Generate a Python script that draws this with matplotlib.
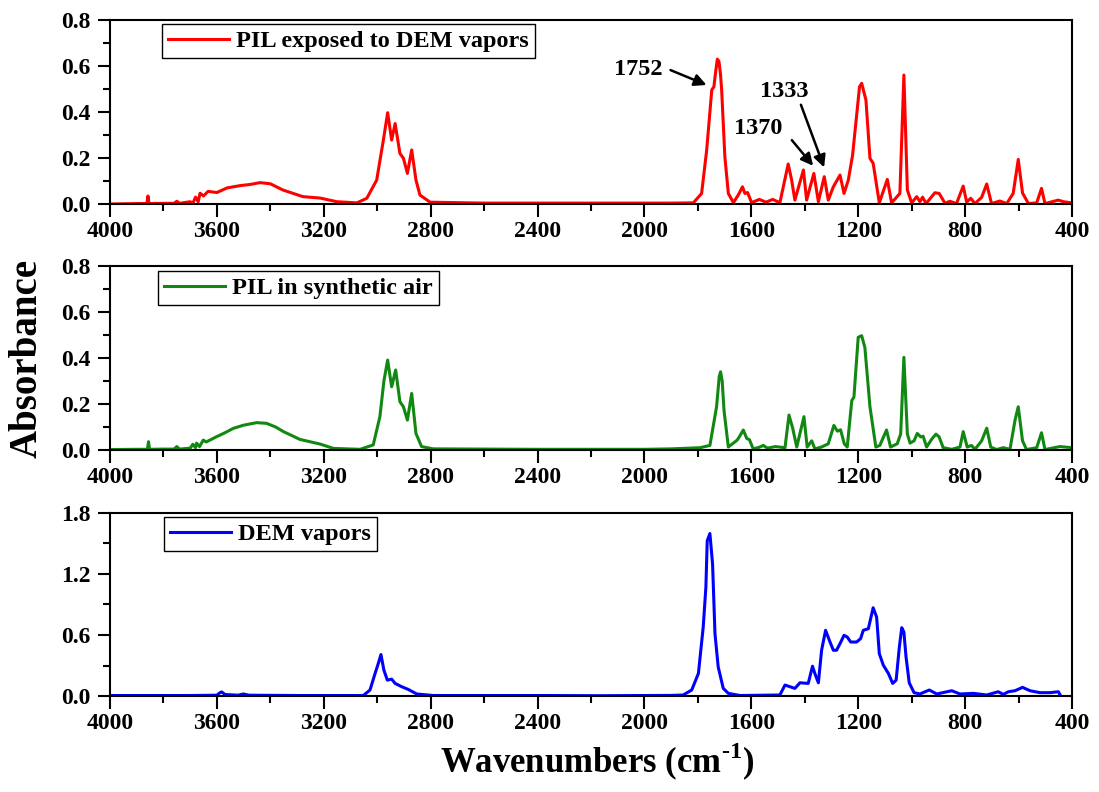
import numpy as np
import matplotlib
matplotlib.use('Agg')
import matplotlib.pyplot as plt
from matplotlib.ticker import MultipleLocator, FormatStrFormatter

plt.rcParams['font.family'] = ['Liberation Serif', 'DejaVu Serif']
plt.rcParams['font.weight'] = 'bold'
plt.rcParams['mathtext.fontset'] = 'custom'
plt.rcParams['mathtext.rm'] = 'Liberation Serif:bold'
plt.rcParams['mathtext.bf'] = 'Liberation Serif:bold'

# (wavenumber cm-1, absorbance)
pil_dem_pts = [
    (4000, 0.0), (3900, 0.002), (3862, 0.002), (3858, 0.035), (3854, 0.002),
    (3800, 0.003), (3760, 0.003), (3750, 0.012), (3740, 0.003), (3700, 0.01),
    (3690, 0.003), (3680, 0.03), (3670, 0.01), (3663, 0.047), (3650, 0.035),
    (3633, 0.055), (3600, 0.05), (3562, 0.07), (3513, 0.08), (3476, 0.085),
    (3439, 0.093), (3400, 0.088), (3353, 0.061), (3278, 0.032), (3214, 0.026),
    (3151, 0.01), (3076, 0.005), (3039, 0.025), (3002, 0.104), (2977, 0.278),
    (2961, 0.397), (2946, 0.278), (2933, 0.35), (2915, 0.22), (2902, 0.199),
    (2887, 0.133), (2871, 0.235), (2855, 0.104), (2840, 0.039), (2802, 0.008),
    (2600, 0.004), (2200, 0.004), (1900, 0.004), (1817, 0.005), (1786, 0.046),
    (1767, 0.235), (1748, 0.496), (1740, 0.51), (1733, 0.58), (1727, 0.63),
    (1721, 0.62), (1715, 0.56), (1711, 0.496), (1699, 0.206), (1686, 0.046),
    (1667, 0.006), (1649, 0.039), (1633, 0.075), (1624, 0.046), (1614, 0.05),
    (1599, 0.006), (1570, 0.02), (1545, 0.008), (1520, 0.02), (1493, 0.006),
    (1462, 0.174), (1449, 0.104), (1437, 0.017), (1405, 0.148), (1393, 0.017),
    (1366, 0.133), (1349, 0.01), (1327, 0.119), (1312, 0.017), (1293, 0.075),
    (1268, 0.126), (1253, 0.046), (1237, 0.104), (1221, 0.213), (1195, 0.51),
    (1187, 0.525), (1171, 0.452), (1156, 0.199), (1144, 0.177), (1121, 0.005),
    (1091, 0.107), (1075, 0.005), (1044, 0.046), (1029, 0.561), (1016, 0.061),
    (1000, 0.005), (981, 0.032), (969, 0.01), (959, 0.03), (946, 0.002),
    (913, 0.049), (897, 0.046), (875, 0.003), (857, 0.012), (832, 0.002),
    (807, 0.078), (794, 0.008), (779, 0.025), (763, 0.002), (738, 0.029),
    (719, 0.087), (701, 0.002), (670, 0.013), (644, 0.002), (620, 0.046),
    (601, 0.194), (585, 0.048), (563, 0.002), (532, 0.005), (514, 0.068),
    (501, 0.002), (451, 0.017), (432, 0.01), (400, 0.005),
]

pil_air_pts = [
    (4000, 0.002), (3900, 0.003), (3860, 0.003), (3856, 0.036), (3852, 0.003),
    (3800, 0.004), (3760, 0.004), (3750, 0.015), (3740, 0.004), (3700, 0.008),
    (3690, 0.025), (3680, 0.01), (3676, 0.03), (3665, 0.015), (3651, 0.043),
    (3640, 0.035), (3601, 0.058), (3570, 0.075), (3539, 0.094), (3500, 0.108),
    (3451, 0.119), (3414, 0.116), (3380, 0.1), (3351, 0.08), (3289, 0.046),
    (3214, 0.026), (3164, 0.007), (3064, 0.003), (3015, 0.022), (2990, 0.145),
    (2975, 0.3), (2961, 0.391), (2946, 0.275), (2931, 0.348), (2915, 0.21),
    (2902, 0.188), (2887, 0.13), (2871, 0.246), (2855, 0.072), (2834, 0.015),
    (2791, 0.005), (2400, 0.003), (2000, 0.003), (1900, 0.005), (1792, 0.01),
    (1755, 0.02), (1730, 0.188), (1720, 0.32), (1715, 0.34), (1709, 0.3),
    (1702, 0.17), (1686, 0.013), (1653, 0.043), (1645, 0.057), (1630, 0.087),
    (1617, 0.05), (1607, 0.045), (1593, 0.005), (1570, 0.012), (1555, 0.02),
    (1540, 0.008), (1510, 0.015), (1474, 0.01), (1459, 0.152), (1445, 0.094),
    (1430, 0.013), (1403, 0.145), (1391, 0.013), (1374, 0.04), (1362, 0.005),
    (1337, 0.013), (1312, 0.027), (1291, 0.107), (1278, 0.082), (1266, 0.088),
    (1252, 0.027), (1241, 0.013), (1224, 0.215), (1216, 0.23), (1200, 0.49),
    (1187, 0.497), (1175, 0.446), (1156, 0.188), (1134, 0.013), (1119, 0.02),
    (1094, 0.087), (1079, 0.013), (1054, 0.027), (1041, 0.07), (1029, 0.403),
    (1016, 0.07), (1006, 0.03), (991, 0.04), (979, 0.072), (966, 0.057),
    (957, 0.06), (944, 0.013), (925, 0.047), (909, 0.069), (897, 0.057),
    (882, 0.01), (850, 0.003), (819, 0.013), (807, 0.08), (792, 0.013),
    (776, 0.02), (763, 0.003), (738, 0.04), (719, 0.095), (704, 0.013),
    (682, 0.002), (657, 0.01), (632, 0.003), (613, 0.13), (601, 0.188),
    (585, 0.04), (570, 0.002), (532, 0.01), (514, 0.075), (501, 0.002),
    (445, 0.015), (400, 0.01),
]

dem_pts = [
    (4000, 0.005), (3700, 0.005), (3600, 0.008), (3590, 0.03), (3582, 0.04),
    (3570, 0.015), (3520, 0.008), (3501, 0.02), (3480, 0.008), (3300, 0.005),
    (3052, 0.005), (3027, 0.059), (3008, 0.222), (2996, 0.32), (2986, 0.408),
    (2975, 0.254), (2962, 0.156), (2946, 0.166), (2933, 0.124), (2908, 0.091),
    (2884, 0.065), (2852, 0.02), (2791, 0.005), (2400, 0.005), (2166, 0.003),
    (1900, 0.006), (1855, 0.01), (1823, 0.059), (1798, 0.222), (1780, 0.678),
    (1770, 1.07), (1765, 1.526), (1755, 1.598), (1745, 1.298), (1736, 0.613),
    (1724, 0.287), (1705, 0.075), (1686, 0.026), (1642, 0.005), (1493, 0.01),
    (1474, 0.108), (1455, 0.091), (1437, 0.075), (1418, 0.13), (1387, 0.124),
    (1371, 0.293), (1362, 0.22), (1349, 0.13), (1337, 0.45), (1322, 0.646),
    (1308, 0.548), (1293, 0.45), (1281, 0.45), (1268, 0.515), (1253, 0.597),
    (1241, 0.58), (1228, 0.531), (1206, 0.531), (1191, 0.564), (1181, 0.646),
    (1162, 0.662), (1144, 0.868), (1131, 0.776), (1121, 0.417), (1106, 0.303),
    (1087, 0.222), (1071, 0.124), (1058, 0.156), (1046, 0.482), (1037, 0.672),
    (1029, 0.629), (1021, 0.385), (1009, 0.13), (991, 0.033), (969, 0.02),
    (934, 0.059), (906, 0.02), (850, 0.052), (819, 0.02), (769, 0.026),
    (719, 0.01), (676, 0.042), (657, 0.016), (638, 0.042), (613, 0.052),
    (585, 0.085), (557, 0.052), (520, 0.033), (482, 0.033), (451, 0.042),
    (443, 0.005),
]

labels = ['PIL exposed to DEM vapors', 'PIL in synthetic air', 'DEM vapors']
colors = ['#ff0000', '#118811', '#0000ff']
ymax = [0.8, 0.8, 1.8]
ystep = [0.2, 0.2, 0.6]
xticks = [4000, 3600, 3200, 2800, 2400, 2000, 1600, 1200, 800, 400]

# peak labels on top panel: text, text pos, arrow tail, arrow head
peak_notes = [
    ('1752', (2024, 0.585), (1912, 0.587), (1758, 0.513)),
    ('1370', (1573, 0.328), (1455, 0.287), (1362, 0.157)),
    ('1333', (1478, 0.489), (1418, 0.443), (1324, 0.148)),
]

fig = plt.figure(figsize=(10.99, 7.92), dpi=100)
boxes = [[0.1001, 0.7424, 0.8753, 0.2323],
         [0.1001, 0.4318, 0.8753, 0.2323],
         [0.1001, 0.1212, 0.8753, 0.2311]]
leg_anchor = [(0.054, 0.978), (0.050, 0.973), (0.056, 0.978)]

for i, pts in enumerate([pil_dem_pts, pil_air_pts, dem_pts]):
    ax = fig.add_axes(boxes[i])
    wn, ab = np.array(pts).T
    ax.plot(wn, ab, color=colors[i], lw=2.2, label=labels[i])
    ax.set_xlim(4000, 400)
    ax.set_ylim(0, ymax[i])
    ax.set_xticks(xticks)
    ax.xaxis.set_minor_locator(MultipleLocator(200))
    ax.yaxis.set_major_locator(MultipleLocator(ystep[i]))
    ax.yaxis.set_minor_locator(MultipleLocator(ystep[i] / 2))
    ax.yaxis.set_major_formatter(FormatStrFormatter('%.1f'))
    ax.tick_params(which='major', length=9, width=1.5, labelsize=17, pad=3)
    ax.tick_params(which='minor', length=5, width=1.5)
    ax.tick_params(axis='y', which='major', pad=5)
    for s in ax.spines.values():
        s.set_linewidth(1.5)
    leg = ax.legend(loc='upper left', bbox_to_anchor=leg_anchor[i],
                    borderaxespad=0, fancybox=False, edgecolor='black',
                    framealpha=1, handlelength=2.5, handletextpad=0.3,
                    borderpad=0.25, prop={'size': 17.5, 'weight': 'bold'})
    leg.get_frame().set_linewidth(1.0)
    if i == 0:
        for txt, tpos, tail, head in peak_notes:
            ax.text(tpos[0], tpos[1], txt, fontsize=17.5, fontweight='bold',
                    ha='center', va='center')
            ax.annotate('', xy=head, xytext=tail,
                        arrowprops=dict(arrowstyle='-|>', color='black',
                                        lw=1.8, mutation_scale=18))

fig.text(0.025, 1 - 358 / 792, 'Absorbance', rotation=90, fontsize=28,
         fontweight='bold', ha='center', va='center')
fig.text(597 / 1099, 1 - 762 / 792, r'Wavenumbers (cm$^{\text{-1}}$)',
         fontsize=25, fontweight='bold', ha='center', va='center')

fig.savefig('out.png', dpi=100)
